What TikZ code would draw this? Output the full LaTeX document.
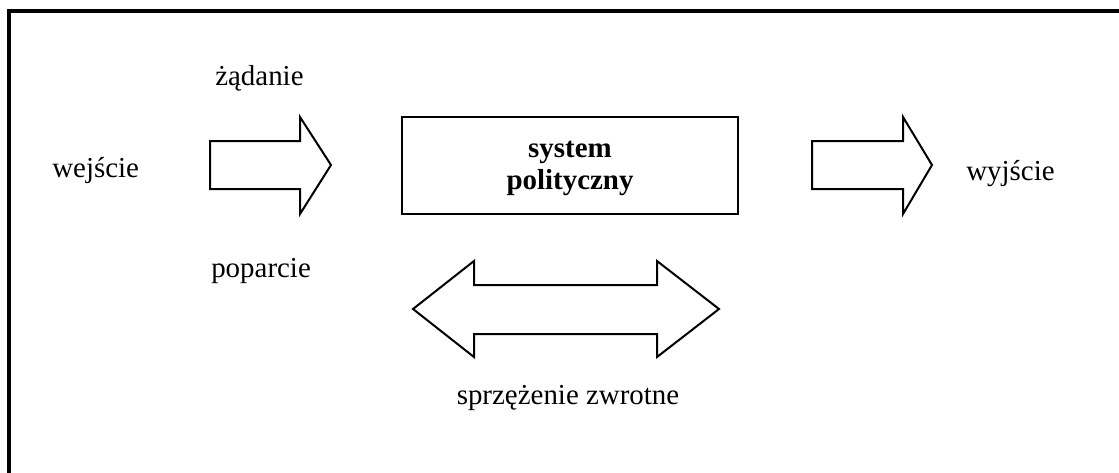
\documentclass[tikz,border=0pt]{standalone}
\usepackage{fontspec}
\setmainfont{Liberation Serif}
\begin{document}
\begin{tikzpicture}[x=0.75pt,y=-0.75pt,
  lbl/.style={inner sep=0pt,font=\fontsize{21.7pt}{24pt}\selectfont},
  shapeline/.style={draw=black,line width=1.5pt,line join=miter},
  framestyle/.style={draw=black,line width=2.4pt}]
\clip (0,0) rectangle (1119,472);
\fill[white] (0,0) rectangle (1119,472);
% frame (cut at right and bottom)
\draw[framestyle] (9,480) -- (9,11) -- (1130,11);
% labels
\node[lbl,anchor=base west] (wej) at (52,177) {wejście};
\node[lbl,anchor=base west] (zad) at (215,85) {żądanie};
\node[lbl,anchor=base west] (pop) at (211,277) {poparcie};
\node[lbl,anchor=base west] (wyj) at (966,180) {wyjście};
\node[lbl,anchor=base] (sprz) at (568,404) {sprzężenie zwrotne};
% system box
\node[shapeline,minimum width=252pt,minimum height=72.75pt] (sys) at (570,165.5) {};
\node[lbl,align=center,font=\fontsize{21.7pt}{24pt}\selectfont\bfseries]
      (systxt) at (sys.center) [yshift=-2pt] {system\\polityczny};
% input arrow
\draw[shapeline] (210,141) -- (300,141) -- (300,117) -- (331,165) -- (300,214)
  -- (300,189) -- (210,189) -- cycle;
% output arrow
\draw[shapeline] (812,141) -- (903,141) -- (903,117) -- (932,165) -- (903,214)
  -- (903,189) -- (812,189) -- cycle;
% feedback double arrow
\draw[shapeline] (413,309) -- (474,261) -- (474,285) -- (657,285) -- (657,261)
  -- (719,309) -- (657,357) -- (657,334) -- (474,334) -- (474,357) -- cycle;
\end{tikzpicture}
\end{document}
